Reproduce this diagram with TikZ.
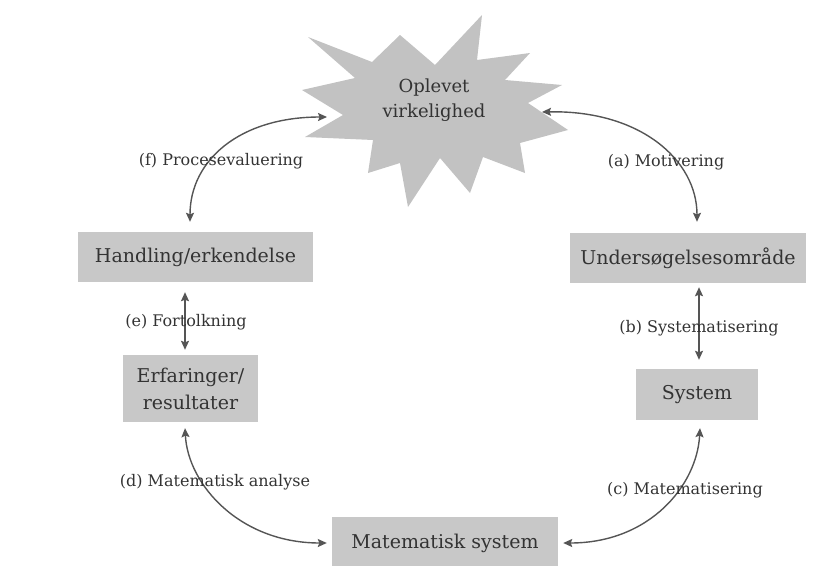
\documentclass[tikz,border=0pt]{standalone}
\usepackage{fontspec}
\setmainfont{DejaVu Serif}
\usetikzlibrary{arrows.meta}
\definecolor{boxgray}{HTML}{C8C8C8}
\definecolor{stargray}{HTML}{C2C2C2}
\definecolor{linegray}{HTML}{555555}
\definecolor{txtgray}{HTML}{333333}
\tikzset{
  box/.style={rectangle, fill=boxgray, draw=none, text=txtgray, inner sep=0pt, align=center,
    font=\fontsize{19}{27}\selectfont},
  lbl/.style={text=txtgray, inner sep=0pt, font=\fontsize{16}{19}\selectfont},
  conn/.style={draw=linegray, line width=1.4pt, {Stealth[length=9pt,width=8pt,inset=1.5pt]}-{Stealth[length=9pt,width=8pt,inset=1.5pt]}}
}
\begin{document}
\begin{tikzpicture}[x=1pt,y=-1pt]
\useasboundingbox (0,0) rectangle (816,565);
\clip (0,0) rectangle (816,565);
% star
\fill[stargray] (308,37) -- (372,62) -- (400,35) -- (435,65) -- (482,15) -- (477,60) -- (530,53)
  -- (505,80) -- (562,85) -- (528,103) -- (568,130) -- (520,143) -- (525,173) -- (483,157)
  -- (470,193) -- (440,158) -- (408,207) -- (400,163) -- (368,173) -- (373,140) -- (305,137)
  -- (343,115) -- (302,90) -- (355,78) -- cycle;
\node[align=center, text=txtgray, inner sep=0pt, font=\fontsize{18}{25}\selectfont] (star) at (434,100) {Oplevet\\virkelighed};
\coordinate (starL) at (327,117);
\coordinate (starR) at (542,112);
% boxes
\node[box, minimum width=235pt, minimum height=50pt] (hand) at (195.5,257) {Handling/erkendelse};
\node[box, minimum width=236pt, minimum height=50pt] (unders) at (688,258) {Undersøgelsesområde};
\node[box, minimum width=135pt, minimum height=67pt, font=\fontsize{19}{27}\selectfont] (erf) at (190.5,388.5) {Erfaringer/\\resultater};
\node[box, minimum width=122pt, minimum height=51pt] (sys) at (697,394.5) {System};
\node[box, minimum width=226pt, minimum height=52pt] (mat) at (445,543) {Matematisk system};
% connector end points
\coordinate (fB) at ([xshift=-5.5pt,yshift=10pt]hand.north);
\coordinate (aB) at ([xshift=9pt,yshift=11pt]unders.north);
\coordinate (eT) at ([xshift=-10.5pt,yshift=-10pt]hand.south);
\coordinate (eB) at ([xshift=-5.5pt,yshift=5pt]erf.north);
\coordinate (bT) at ([xshift=11pt,yshift=-4pt]unders.south);
\coordinate (bB) at ([xshift=2pt,yshift=9pt]sys.north);
\coordinate (dT) at ([xshift=-5.5pt,yshift=-6pt]erf.south);
\coordinate (dB) at ([xshift=-5pt]mat.west);
\coordinate (cT) at ([xshift=3pt,yshift=-8pt]sys.south);
\coordinate (cB) at ([xshift=5pt]mat.east);
% connectors
\draw[conn] (fB) .. controls (190,160) and (240,117) .. (starL);
\draw[conn] (starR) .. controls (640,110) and (697,160) .. (aB);
\draw[conn] (eT) -- (eB);
\draw[conn] (bT) -- (bB);
\draw[conn] (dT) .. controls (188,485) and (240,543) .. (dB);
\draw[conn] (cT) .. controls (697,485) and (650,543) .. (cB);
% labels
\node[lbl] (lf) at (221,161) {(f) Procesevaluering};
\node[lbl] (la) at (666,162) {(a) Motivering};
\node[lbl] (le) at (186,322) {(e) Fortolkning};
\node[lbl] (lb) at (699,328) {(b) Systematisering};
\node[lbl] (ld) at (215,482) {(d) Matematisk analyse};
\node[lbl] (lc) at (685,490) {(c) Matematisering};
\end{tikzpicture}
\end{document}
